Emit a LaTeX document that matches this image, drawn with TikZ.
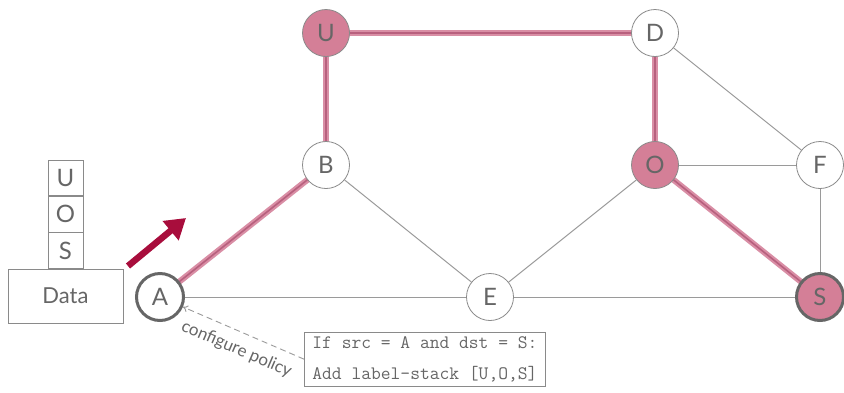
\documentclass[tikz,border=0pt]{standalone}
\usepackage{fontspec}
\setmainfont{Lato}
\usetikzlibrary{arrows.meta}
\pgfdeclarelayer{background}
\pgfsetlayers{background,main}
\definecolor{txtgray}{HTML}{666666}
\definecolor{edgegray}{HTML}{9A9A9A}
\definecolor{rimgray}{HTML}{8A8A8A}
\definecolor{pathpink}{HTML}{D98EA5}
\definecolor{pathcore}{HTML}{B8607E}
\definecolor{nodepink}{HTML}{D47F97}
\definecolor{crimson}{HTML}{A80D3C}
\tikzset{
  router/.style={circle, draw=rimgray, line width=0.8pt, fill=white,
    minimum size=47pt, inner sep=0pt, font=\fontsize{24}{24}\selectfont, text=txtgray},
  onpath/.style={router, fill=nodepink},
  endpoint/.style={line width=3pt, draw=black!60},
  link/.style={draw=edgegray, line width=1pt},
  hot/.style={draw=pathpink, line width=6pt},
  hotcore/.style={draw=pathcore, line width=1.6pt},
  stackbox/.style={rectangle, draw=rimgray, line width=0.8pt, minimum width=35pt,
    minimum height=35.5pt, inner sep=0pt, font=\fontsize{24}{24}\selectfont, text=txtgray},
  databox/.style={rectangle, draw=rimgray, line width=0.8pt, minimum width=115pt,
    minimum height=54pt, inner sep=0pt, font=\fontsize{22}{22}\selectfont, text=txtgray},
  codebox/.style={rectangle, draw=rimgray, line width=0.8pt, fill=white, anchor=north west,
    align=left, inner xsep=8pt, inner ysep=4pt, text=txtgray,
    font=\ttfamily\fontsize{19}{31}\selectfont},
}
\begin{document}
\begin{tikzpicture}[x=1pt,y=-1pt]
\useasboundingbox (0,0) rectangle (844,392);

% routers
\node[onpath] (U) at (326,33) {U};
\node[router] (D) at (655,33) {D};
\node[router] (B) at (326,165) {B};
\node[onpath] (O) at (655,165) {O};
\node[router] (F) at (820,165) {F};
\node[router, endpoint] (A) at (160,297) {A};
\node[router] (E) at (490,297) {E};
\node[onpath, endpoint] (S) at (820,297) {S};

\begin{pgfonlayer}{background}
% plain links
\draw[link] (B) -- (E);
\draw[link] (A) -- (E);
\draw[link] (E) -- (S);
\draw[link] (E) -- (O);
\draw[link] (O) -- (F);
\draw[link] (D) -- (F);
\draw[link] (F) -- (S);
% segment-routed path A-B-U-D-O-S
\foreach \p/\q in {A/B, B/U, U/D, D/O, O/S} {
  \draw[hot] (\p.center) -- (\q.center);
  \draw[hotcore] (\p.center) -- (\q.center);
}
\end{pgfonlayer}

% packet with label stack
\node[databox] (data) at (65.5,296) {Data};
\node[stackbox, anchor=south] (lS) at (data.north) {S};
\node[stackbox, anchor=south] (lO) at (lS.north) {O};
\node[stackbox, anchor=south] (lU) at (lO.north) {U};

% forwarding direction
\coordinate (fwdA) at (128,266);
\coordinate (fwdB) at (186,218);
\draw[crimson, line width=6.5pt, -{Triangle[length=20pt,width=24pt]}] (fwdA) -- (fwdB);

% policy box
\node[codebox] (policy) at (304,332) {If src = A and dst = S:\\Add label-stack [U,O,S]};
\draw[edgegray, line width=0.9pt, dash pattern=on 6pt off 4pt, -{To[length=5pt,width=7pt]}]
  (policy.west) -- node[sloped, below=6pt, text=txtgray, font=\fontsize{17}{17}\selectfont, pos=0.5] {configure policy} (A);
\end{tikzpicture}
\end{document}
